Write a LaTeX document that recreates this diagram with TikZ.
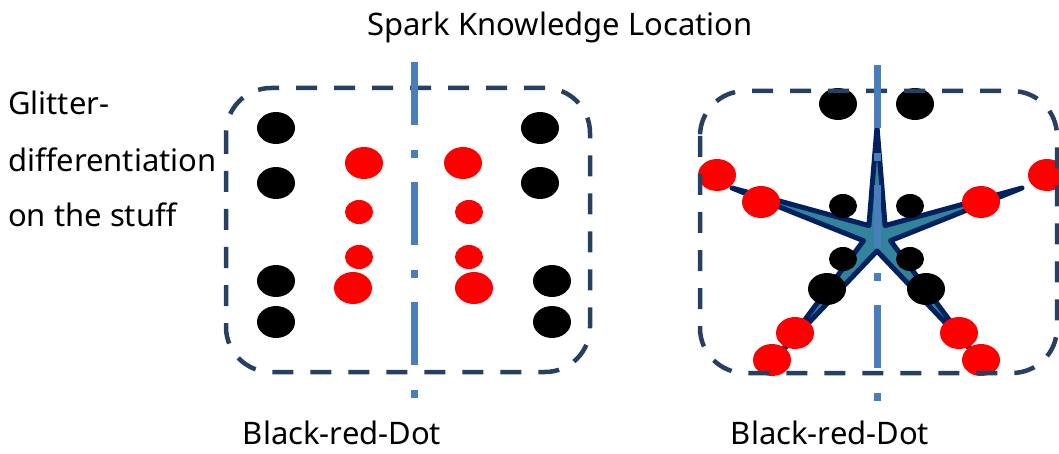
\documentclass[tikz,border=0pt]{standalone}
\usepackage{fontspec}
\setmainfont{Noto Sans}
\usetikzlibrary{shapes.geometric}
\definecolor{boxline}{HTML}{254061}
\definecolor{axisblue}{HTML}{4A7EBB}
\definecolor{starline}{HTML}{002060}
\definecolor{starfill}{HTML}{31849B}
\tikzset{
  bdot/.style={ellipse, fill=black, inner sep=0pt, minimum width=38pt, minimum height=32pt},
  sbdot/.style={ellipse, fill=black, inner sep=0pt, minimum width=28pt, minimum height=24pt},
  rdot/.style={ellipse, fill=red, inner sep=0pt, minimum width=38pt, minimum height=32pt},
  srdot/.style={ellipse, fill=red, inner sep=0pt, minimum width=28pt, minimum height=24pt},
  dbox/.style={draw=boxline, line width=4.5pt, rounded corners=45pt, dash pattern=on 21pt off 17pt},
  axis/.style={draw=axisblue, line width=7pt, dash pattern=on 63pt off 25pt on 8pt off 24pt},
  lbl/.style={inner sep=0pt, anchor=base, font=\fontsize{31}{37}\selectfont},
  caption/.style={lbl, text depth=0pt},
}
\begin{document}
\begin{tikzpicture}[x=1pt, y=-1pt]
\useasboundingbox (0,0) rectangle (1059,454);
\clip (0,0) rectangle (1059,454);

% titles
\node[lbl] (title) at (560,36) {Spark Knowledge Location};
\node[lbl, anchor=base west] (g1) at (8,115) {Glitter-};
\node[lbl, anchor=base west] (g2) at (8,172) {differentiation};
\node[lbl, anchor=base west] (g3) at (8,227) {on the stuff};
\node[caption] (capL) at (342,444) {Black-red-Dot};
\node[caption] (capR) at (830,444) {Black-red-Dot};

% left panel: black dots
\node[bdot] (lb1) at (276,128) {};
\node[bdot] (lb2) at (276,183) {};
\node[bdot] (lb3) at (276,281) {};
\node[bdot] (lb4) at (276,322) {};
\node[bdot] (rb1) at (540,128) {};
\node[bdot] (rb2) at (540,183) {};
\node[bdot] (rb3) at (552,281) {};
\node[bdot] (rb4) at (552,322) {};
% left panel: red dots
\node[rdot]  (lr1) at (364,163) {};
\node[srdot] (lr2) at (359,212) {};
\node[srdot] (lr3) at (359,257) {};
\node[rdot]  (lr4) at (353,288) {};
\node[rdot]  (rr1) at (463,163) {};
\node[srdot] (rr2) at (469,212) {};
\node[srdot] (rr3) at (469,257) {};
\node[rdot]  (rr4) at (474,288) {};

% right panel: star
\coordinate (sc) at (877,237);
\draw[starline, fill=starfill, line width=5pt, line join=round]
  (877,127) -- (885.1,225.6) -- (1022,188) -- (890.5,240.7) -- (973,352)
  -- (877,251) -- (781,352) -- (863.5,240.7) -- (732,188) -- (868.9,225.6) -- cycle;

% right panel: dots
\node[bdot]  (tb1) at (838,104) {};
\node[bdot]  (tb2) at (915,104) {};
\node[sbdot] (sb1) at (843,206) {};
\node[sbdot] (sb2) at (910,206) {};
\node[sbdot] (sb3) at (843,259) {};
\node[sbdot] (sb4) at (910,259) {};
\node[bdot]  (bb1) at (827,289) {};
\node[bdot]  (bb2) at (926,289) {};
\node[rdot] (ra1) at (717,175) {};
\node[rdot] (ra2) at (761,202) {};
\node[rdot] (ra3) at (1047,175) {};
\node[rdot] (ra4) at (981,202) {};
\node[rdot] (ra5) at (795,333) {};
\node[rdot] (ra6) at (772,360) {};
\node[rdot] (ra7) at (959,333) {};
\node[rdot] (ra8) at (981,360) {};

% dashed frames
\draw[dbox] (226,88) rectangle (590,372);
\draw[dbox] (700,91) rectangle (1057,373);

% symmetry axes
\coordinate (aL1) at (414,62);
\coordinate (aL2) at (414,400);
\coordinate (aR1) at (877,65);
\coordinate (aR2) at (877,403);
\draw[axis] (aL1) -- (aL2);
\draw[axis] (aR1) -- (aR2);
\end{tikzpicture}
\end{document}
